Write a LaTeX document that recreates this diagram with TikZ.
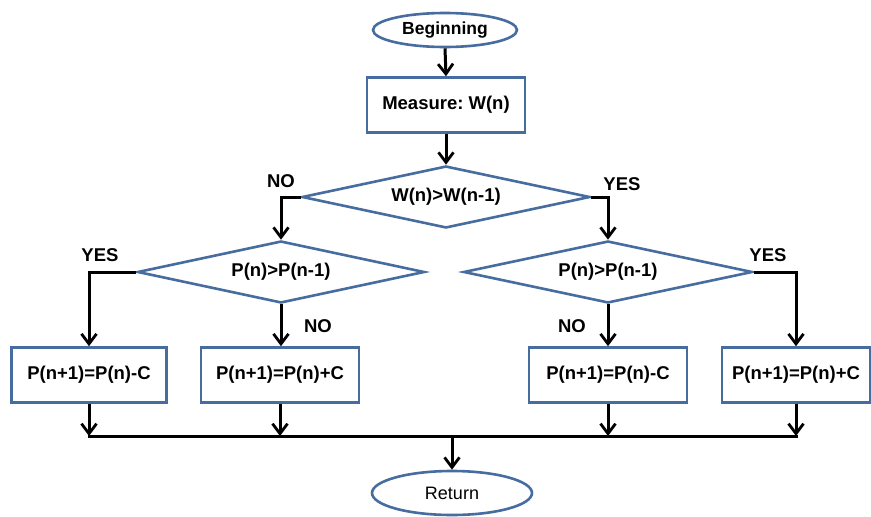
\documentclass[tikz,border=0pt]{standalone}
\usepackage{fontspec}
\setmainfont{Liberation Sans}
\usetikzlibrary{shapes.geometric,arrows.meta,calc}
\definecolor{outl}{RGB}{70,108,160}
\frenchspacing
\begin{document}
\begin{tikzpicture}[x=1pt,y=-1pt,
  base/.style={draw=outl,line width=2.6pt,fill=white,font=\fontsize{18.5}{21}\selectfont\bfseries,inner sep=0pt},
  term/.style={base,ellipse},
  proc/.style={base,rectangle,minimum height=55pt},
  dec/.style={base,diamond,shape aspect=4.6,minimum height=62pt},
  arr/.style={line width=3pt,-{Straight Barb[length=10pt,width=15pt,line width=2.8pt]}},
  ln/.style={line width=3pt},
  lbl/.style={font=\fontsize{18.5}{21}\selectfont\bfseries,inner sep=0pt}]
\useasboundingbox (0,0) rectangle (871,517);
\node[term,minimum width=144pt,minimum height=34pt,font=\fontsize{17.5}{20}\selectfont\bfseries] (begin) at (445,30) {Beginning};
\node[proc,minimum width=158pt] (meas) at (446,105) {Measure: W(n)};
\node[dec,minimum width=288pt] (d1) at (446,197) {W(n)>W(n-1)};
\node[dec,minimum width=287pt] (d2) at (281,272) {P(n)>P(n-1)};
\node[dec,minimum width=289pt] (d3) at (608,272) {P(n)>P(n-1)};
\node[proc,minimum width=155pt] (b1) at (89,375) {P(n+1)=P(n)-C};
\node[proc,minimum width=158pt] (b2) at (280,375) {P(n+1)=P(n)+C};
\node[proc,minimum width=158pt] (b3) at (608,375) {P(n+1)=P(n)-C};
\node[proc,minimum width=148pt] (b4) at (796,375) {P(n+1)=P(n)+C};
\node[term,minimum width=160pt,minimum height=44pt,font=\fontsize{18}{21}\selectfont] (ret) at (452,493) {Return};
\coordinate (bus) at (452,436);

\draw[arr] (begin.south) -- (meas.north);
\draw[arr] (meas.south) -- (d1.north);
\draw[arr] (d1.west) -| (d2.north);
\draw[arr] (d1.east) -| (d3.north);
\draw[arr] (d2.west) -| (b1.north);
\draw[arr] (d2.south) -- (d2.south |- b2.north);
\draw[arr] (d3.south) -- (d3.south |- b3.north);
\draw[arr] (d3.east) -| (b4.north);
\draw[arr] (b1.south) -- (b1.south |- bus);
\draw[arr] (b2.south) -- (b2.south |- bus);
\draw[arr] (b3.south) -- (b3.south |- bus);
\draw[arr] (b4.south) -- (b4.south |- bus);
\draw[ln,line cap=rect] (b1.south |- bus) -- (b4.south |- bus);
\draw[arr] (bus) -- (ret.north);

\node[lbl] (l1) at (281,181) {NO};
\node[lbl] (l2) at (622,184) {YES};
\node[lbl] (l3) at (100,255) {YES};
\node[lbl] (l4) at (318,326) {NO};
\node[lbl] (l5) at (572,326) {NO};
\node[lbl] (l6) at (768,255) {YES};
\end{tikzpicture}
\end{document}
